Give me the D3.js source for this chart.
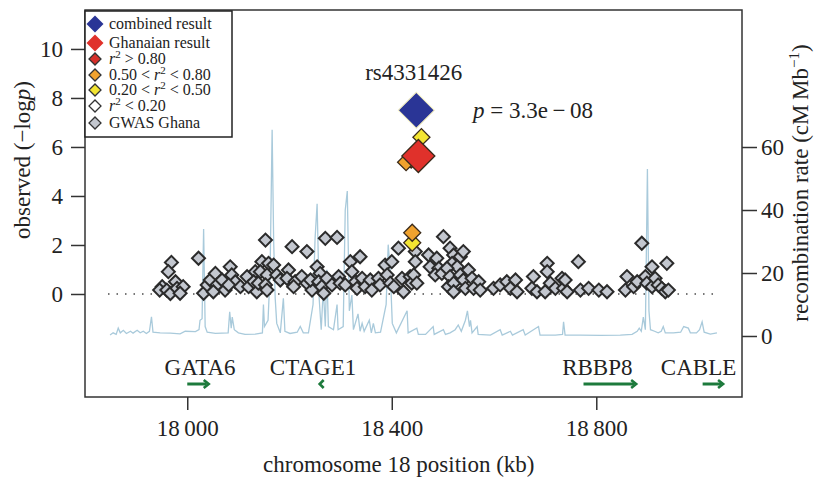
<!DOCTYPE html>
<html><head><meta charset="utf-8">
<script src="https://cdn.jsdelivr.net/npm/d3@7"></script>
<style>body{margin:0;background:#fff}svg{display:block}text{font-family:"Liberation Serif","Times New Roman",serif;fill:#222}</style>
</head><body><svg id="c" width="820" height="477"></svg>
<script>
// ---- data ----
const snpPos = [17969,17963,17951,17946,17960,17967,17977,17980,17992,17986,18022,18032,18039,18045,18055,18058,18051,18068,18074,18084,18087,18094,18081,18104,18117,18120,18133,18130,18136,
18153,18146,18159,18143,18156,18139,18153,18156,18169,18175,18182,18198,18195,18205,18211,18208,18224,18234,18234,18244,18241,18254,18260,18257,18263,18267,18270,18293,18273,18283,18296,18299,18309,18319,18322,18329,18338,18332,18342,18348,18358,18361,18374,18377,18387,18391,18400,18397,18404,18413,18420,18423,18436,18439,
18501,18446,18446,18443,18449,18472,18475,18488,18492,18485,18498,18514,18521,18518,18534,18528,18508,18514,18511,18521,18521,18540,18534,18550,18540,18544,18557,18570,18560,18573,18599,18612,18625,18632,18642,18645,18677,18674,18684,18704,18704,18700,18710,18720,18733,18736,18743,
18765,18739,18769,18785,18805,18821,18889,18860,18857,18873,18880,18896,18909,18899,18909,18915,18921,18928,18938,18935,18941];
const snpLogP = [1.29,0.91,0.30,0.16,0.16,0.02,0.50,0.23,0.30,0.03,1.46,0.03,0.37,0.57,0.84,0.37,0.09,0.57,0.16,1.11,0.78,0.50,0.37,0.30,0.71,0.30,0.91,0.50,0.09,
2.20,1.32,1.25,0.91,0.78,0.44,0.37,0.16,1.18,0.78,0.57,0.98,0.64,1.93,0.50,0.30,0.71,1.73,0.44,0.16,0.57,1.11,0.84,0.50,0.30,0.03,2.27,2.31,0.64,0.37,0.71,0.44,0.37,1.32,0.91,0.50,1.52,0.23,0.64,0.30,0.57,0.16,0.64,0.37,1.18,0.78,1.32,0.44,0.30,1.87,0.64,0.09,0.71,0.44,
2.34,1.73,1.32,0.78,0.44,1.59,1.11,1.46,1.05,0.78,0.84,1.87,1.59,1.25,1.52,1.11,1.05,0.71,0.30,0.44,0.09,1.73,0.78,0.98,0.57,0.23,0.64,0.50,0.23,0.16,0.23,0.37,0.50,0.23,0.57,0.09,0.71,0.23,0.09,1.25,0.91,0.09,0.44,0.23,0.64,0.23,0.09,
1.32,0.57,0.16,0.23,0.16,0.09,2.07,0.71,0.16,0.30,0.50,0.71,1.11,0.44,0.30,0.64,0.37,0.23,1.25,0.09,0.16];

// highlighted SNPs: position kb, -log p, category
const hiPos  = [18440, 18440, 18438, 18428, 18458, 18452, 18448];
const hiLogP = [2.09, 2.50, 5.47, 5.38, 6.40, 5.63, 7.50];
const hiCat  = ["yellow","orange","r80","orange","yellow","ghana","combined"];

// recombination rate (cM/Mb)
const recPos = [17849,17855,17861,17865,17869,17875,17881,17889,17894,17902,17908,17914,17920,17926,17930,17933,17947,17967,17986,17996,18016,18023,18025,18029,18032,18035,18039,18055,18080,18083,18086,18088,18092,18100,18113,18133,18147,18149,18151,18158,18162,18166,18169,18172,18175,18182,18188,18191,18201,18215,18221,18227,18237,18246,18250,18254,18258,18262,18266,18270,18273,18276,18286,18293,18295,18305,18309,18313,18317,18322,18325,18334,18338,18342,18346,18356,18360,18364,18368,18378,18389,18393,18397,18401,18409,18430,18432,18449,18452,18466,18481,18483,18501,18505,18514,18524,18530,18536,18544,18548,18552,18554,18557,18567,18569,18593,18612,18616,18632,18636,18657,18661,18687,18690,18720,18734,18736,18739,18769,18808,18847,18870,18880,18884,18888,18892,18896,18900,18903,18906,18914,18921,18927,18931,18935,18951,18965,18971,18980,18984,18996,19002,19007,19011,19023,19036];
const recRate = [0.3,1.0,0.5,2.5,1.0,1.8,0.8,1.5,0.9,1.8,1.0,1.5,0.8,1.5,6.1,1.2,1.0,0.9,0.7,1.5,1.4,2.0,5.0,5.5,34,3,1.2,0.8,1.0,7.7,2.5,6,2,1.0,0.5,0.6,1,10,3,5,20,65.5,30,12,4,1,12,1.5,0.8,1.2,3,1,1,10,31,42,12,2,15,3,21,3,2,10,2,3,40,46,8,13,2,7,1.5,4,1.5,5,1,4,1,1.2,10,29,21,4,1,8,1,2.5,0.5,0.5,3,0.5,2,0.5,1,2,3.5,1.5,5,8,3,5,1,3,0.5,0.3,2,0.3,1.5,0.3,2,0.3,3,0.3,0.3,0.5,4.5,0.3,0.3,0.2,0.3,0.5,1.5,2.5,1.5,6,2,53,8,2,1.5,1.0,1.5,3,1.0,1.0,1.2,3,2.5,1.0,1.0,2,4.5,1.2,0.6,1.0];

// genes
const geneName  = ["GATA6","CTAGE1","RBBP8","CABLE"];
const geneLabel = [18025,18246,18802,19000];
const geneStart = [18000,18259,18775,19008];
const geneEnd   = [18042,18265,18878,19048];
const geneDir   = [1,-1,1,1];

const xTicks = [18000,18400,18800];
const yTicks = [0,2,4,6,8,10];
const rTicks = [0,20,40,60];

const legendLabels = ["combined result","Ghanaian result","r2>0.80","0.50<r2<0.80","0.20<r2<0.50","r2<0.20","GWAS Ghana"];
const legendCats = ["combined","ghana","r80","orange","yellow","white","grey"];

// ---- styles ----
const fillOf = {combined:"#2a3596", ghana:"#e0312b", r80:"#d62f2a", orange:"#f0a22e", yellow:"#f3e532", white:"#ffffff", grey:"#c3c7cf"};
const sizeOf = {combined:36, ghana:33, r80:16, orange:17, yellow:17, white:13, grey:13};
const FS = 23;

const svg = d3.select("#c");
const L=85, R=742, T=10, B=397;
const x = d3.scaleLinear().domain([17800,19085]).range([L,R]);
const y = d3.scaleLinear().domain([-4.204,11.59]).range([B,T]);
const yr = d3.scaleLinear().domain([-19.37,103.5]).range([B,T]);

function diamond(diag){ const s=diag/Math.SQRT2; return d3.symbol().type(d3.symbolSquare).size(s*s)(); }

// recombination line
svg.append("path")
  .attr("d", d3.line().x((d,i)=>x(recPos[i])).y((d,i)=>yr(recRate[i]))(recPos))
  .attr("fill","none").attr("stroke","#a9cadb").attr("stroke-width",1.3);

// dotted zero line
svg.append("line").attr("x1",x(17845)).attr("x2",x(19040)).attr("y1",y(0)).attr("y2",y(0))
  .attr("stroke","#777").attr("stroke-width",1.8).attr("stroke-dasharray","1.5,7");

// grey SNPs
svg.append("g").selectAll("path").data(snpPos).join("path")
  .attr("d", diamond(sizeOf.grey))
  .attr("transform",(d,i)=>`translate(${x(d)},${y(snpLogP[i])}) rotate(45)`)
  .attr("fill",fillOf.grey).attr("stroke","#2b2b2b").attr("stroke-width",2);

// highlighted SNPs
svg.append("g").selectAll("path").data(hiPos).join("path")
  .attr("d",(d,i)=>diamond(sizeOf[hiCat[i]]))
  .attr("transform",(d,i)=>`translate(${x(d)},${y(hiLogP[i])}) rotate(45)`)
  .attr("fill",(d,i)=>fillOf[hiCat[i]])
  .attr("stroke",(d,i)=>hiCat[i]==="combined"?"#f4f0c0":"#3a2a1a")
  .attr("stroke-width",(d,i)=>hiCat[i]==="combined"?1:1.3);

// annotations
svg.append("text").attr("x",x(18443)).attr("y",80).attr("text-anchor","middle").attr("font-size",FS).text("rs4331426");
const pt = svg.append("text").attr("x",473).attr("y",118).attr("font-size",FS);
pt.append("tspan").attr("font-style","italic").text("p");
pt.append("tspan").text(" = 3.3e\u2009\u2212\u200908");

// genes
const gG = svg.append("g");
geneName.forEach((n,i)=>{
  const xs=x(geneStart[i]), xe=x(geneEnd[i]);
  gG.append("text").attr("x",x(geneLabel[i])).attr("y",375).attr("text-anchor","middle").attr("font-size",FS).text(n);
  const ay=384, h=4;
  if(geneDir[i]>0){
    gG.append("line").attr("x1",xs).attr("x2",xe-2).attr("y1",ay).attr("y2",ay).attr("stroke","#1d7a3c").attr("stroke-width",3);
    gG.append("path").attr("d",`M${xe-h-1},${ay-h}L${xe},${ay}L${xe-h-1},${ay+h}`).attr("fill","none").attr("stroke","#1d7a3c").attr("stroke-width",2.6);
  } else {
    gG.append("path").attr("d",`M${xs+h},${ay-h}L${xs},${ay}L${xs+h},${ay+h}`).attr("fill","none").attr("stroke","#1d7a3c").attr("stroke-width",2.6);
  }
});

// frame
svg.append("rect").attr("x",L).attr("y",T).attr("width",R-L).attr("height",B-T).attr("fill","none").attr("stroke","#333").attr("stroke-width",1.5);

// axes
const ax = g=>g.call(s=>s.select(".domain").remove()).call(s=>s.selectAll("line").attr("stroke","#333").attr("stroke-width",1.5))
  .call(s=>s.selectAll("text").attr("font-family","Liberation Serif").attr("font-size",FS).attr("fill","#222"));
svg.append("g").attr("transform",`translate(${L},0)`).call(d3.axisLeft(y).tickValues(yTicks).tickSize(14).tickPadding(8)).call(ax);
svg.append("g").attr("transform",`translate(${R},0)`).call(d3.axisRight(yr).tickValues(rTicks).tickSize(15).tickPadding(4)).call(ax);
svg.append("g").attr("transform",`translate(0,${B})`).call(d3.axisBottom(x).tickValues(xTicks).tickSize(13).tickPadding(10).tickFormat(d=>d3.format("d")(d).replace(/^(\d\d)/,"$1\u2009"))).call(ax);

// axis titles
svg.append("text").attr("transform","translate(30,160) rotate(-90)").attr("text-anchor","middle").attr("font-size",FS)
  .call(t=>{t.append("tspan").text("observed (\u2212log");t.append("tspan").attr("font-style","italic").text("p");t.append("tspan").text(")");});
svg.append("text").attr("x",x(18400)+7).attr("y",472).attr("text-anchor","middle").attr("font-size",FS).text("chromosome 18 position (kb)");
svg.append("text").attr("transform","translate(808,183) rotate(-90)").attr("text-anchor","middle").attr("font-size",FS)
  .call(t=>{t.append("tspan").text("recombination rate (cM\u2009Mb");t.append("tspan").attr("font-size",15).attr("dy",-9).text("\u22121");t.append("tspan").attr("dy",9).text(")");});

// legend
const lg = svg.append("g");
lg.append("rect").attr("x",L).attr("y",T+1).attr("width",147).attr("height",126).attr("fill","#fff").attr("stroke","#222").attr("stroke-width",1.5);
const ly = [24,43,59,75,90,106,123];
const lsize = {combined:17,ghana:17,r80:12,orange:12,yellow:12,white:12,grey:12};
legendCats.forEach((c,i)=>{
  lg.append("path").attr("d",diamond(lsize[c])).attr("transform",`translate(95,${ly[i]}) rotate(45)`)
    .attr("fill",fillOf[c]).attr("stroke",(c==="combined"||c==="ghana")?"none":"#333").attr("stroke-width",1.3);
  const t = lg.append("text").attr("x",109).attr("y",ly[i]+5).attr("font-size",16);
  const lab = legendLabels[i];
  if(lab.includes("r2")){
    const parts = lab.split("r2");
    const fmt = s=>s.replace(/</g," < ").replace(/>/g," > ").trim();
    if(parts[0]) t.append("tspan").text(fmt(parts[0])+" ");
    t.append("tspan").attr("font-style","italic").text("r");
    t.append("tspan").attr("font-size",11).attr("dy",-6).text("2");
    t.append("tspan").attr("dy",6).text(" "+fmt(parts[1]));
  } else t.text(lab);
});
</script></body></html>
